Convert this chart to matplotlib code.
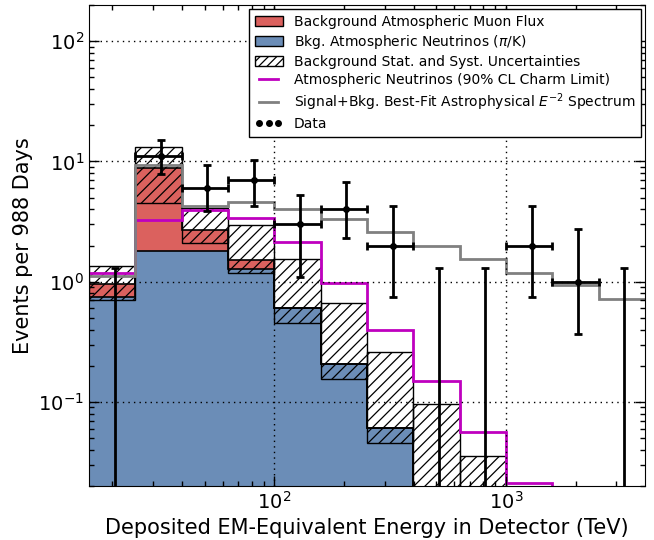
import numpy as np
import matplotlib
matplotlib.use('Agg')
import matplotlib.pyplot as plt
from matplotlib.patches import Patch
from matplotlib.lines import Line2D

# bin edges in log10(E/TeV)
log_edges = [1.2, 1.4, 1.6, 1.8, 2.0, 2.2, 2.4, 2.6, 2.8, 3.0, 3.2, 3.4, 3.6]

# atmospheric neutrinos (pi/K), stacked total with muons, and uncertainty band
nu_bkg   = [0.75, 1.81, 1.80, 1.27, 0.60, 0.205, 0.0604, 0.015, 0.005, 0.002, 0.001, 0.0005]
tot_bkg  = [0.96, 8.9, 2.71, 1.52, 0.60, 0.205, 0.0604, 0.015, 0.005, 0.002, 0.001, 0.0005]
band_lo  = [0.70, 4.5, 2.09, 1.19, 0.454, 0.155, 0.0457, 0.01, 0.003, 0.001, 0.0005, 0.0003]
band_hi  = [1.35, 13.2, 4.12, 2.98, 1.54, 0.665, 0.26, 0.0966, 0.0355, 0.012, 0.006, 0.003]

charm    = [1.19, 3.23, 3.93, 3.4, 2.12, 0.97, 0.40, 0.148, 0.056, 0.021, 0.009, 0.004]
best_fit = [1.12, 9.4, 4.3, 4.6, 4.0, 3.33, 2.58, 1.99, 1.55, 1.19, 0.94, 0.725]

# data
counts   = [0, 11, 6, 7, 3, 4, 2, 0, 0, 2, 1, 0]
err_up   = [1.29, 15.0, 9.4, 10.3, 5.3, 6.8, 4.25, 1.29, 1.29, 4.25, 2.75, 1.29]
err_dn   = [0, 7.8, 3.85, 4.25, 1.1, 2.3, 0.74, 0, 0, 0.74, 0.37, 0]

red = '#db615e'
blue = '#6b8db7'

edges = 10**np.array(log_edges)
nu_bkg = np.array(nu_bkg); tot_bkg = np.array(tot_bkg)
band_lo = np.array(band_lo); band_hi = np.array(band_hi)
counts = np.array(counts, dtype=float)
err_up = np.array(err_up); err_dn = np.array(err_dn)
centers = (edges[:-1] + edges[1:]) / 2

plt.rcParams['hatch.linewidth'] = 0.9
fig = plt.figure(figsize=(6.54, 5.4), dpi=100)
ax = fig.add_axes([0.136, 0.1, 0.85, 0.8907])

ax.stairs(nu_bkg, edges, fill=True, facecolor=blue, edgecolor='none', zorder=1)
ax.stairs(tot_bkg, edges, baseline=nu_bkg, fill=True, facecolor=red, edgecolor='none', zorder=1)
ax.bar(edges[:-1], band_hi - band_lo, bottom=band_lo, width=np.diff(edges), align='edge',
       fill=False, hatch='///', edgecolor='black', lw=1.0, zorder=1.5)
ax.stairs(nu_bkg, edges, baseline=None, color='black', lw=1.2, zorder=1.6)
ax.stairs(tot_bkg, edges, baseline=None, color='black', lw=1.2, zorder=1.6)

ax.stairs(charm, edges, baseline=None, color='m', lw=2, zorder=2)
ax.stairs(best_fit, edges, baseline=None, color='gray', lw=2, zorder=2)

has = counts > 0
ax.errorbar(centers[has], counts[has],
            xerr=[centers[has] - edges[:-1][has], edges[1:][has] - centers[has]],
            yerr=[counts[has] - err_dn[has], err_up[has] - counts[has]],
            fmt='o', color='black', ms=4, elinewidth=2, capsize=3, capthick=2, zorder=3)
zero = ~has
ax.errorbar(centers[zero], err_up[zero], yerr=[err_up[zero] - 1e-3, np.zeros(zero.sum())],
            fmt='none', ecolor='black', elinewidth=2, capsize=3, capthick=2, zorder=3)

ax.set_xscale('log')
ax.set_yscale('log')
ax.set_xlim(edges[0], edges[-1])
ax.set_ylim(0.02, 200)
ax.set_axisbelow(False)
ax.grid(True, which='major', color='black', ls=(0, (1, 3)), lw=1)
ax.tick_params(which='both', direction='in', top=True, right=True, labelsize=14)
ax.tick_params(which='major', length=7, width=1)
ax.tick_params(which='minor', length=3.5, width=1)
ax.set_xlabel('Deposited EM-Equivalent Energy in Detector (TeV)', fontsize=15)
ax.set_ylabel('Events per 988 Days', fontsize=15)

handles = [Patch(facecolor=red, edgecolor='black'),
           Patch(facecolor=blue, edgecolor='black'),
           Patch(facecolor='white', edgecolor='black', hatch='////'),
           Line2D([], [], color='m', lw=2),
           Line2D([], [], color='gray', lw=2),
           Line2D([], [], color='black', marker='o', ls='none', ms=4)]
labels = ['Background Atmospheric Muon Flux',
          r'Bkg. Atmospheric Neutrinos ($\pi$/K)',
          'Background Stat. and Syst. Uncertainties',
          'Atmospheric Neutrinos (90% CL Charm Limit)',
          r'Signal+Bkg. Best-Fit Astrophysical $E^{-2}$ Spectrum',
          'Data']
leg = ax.legend(handles, labels, loc='upper right', fontsize=10, numpoints=3,
                fancybox=False, framealpha=1, edgecolor='black', borderaxespad=0.3,
                labelspacing=0.3)
leg.get_frame().set_linewidth(1.0)

fig.savefig('out.png', dpi=100)
